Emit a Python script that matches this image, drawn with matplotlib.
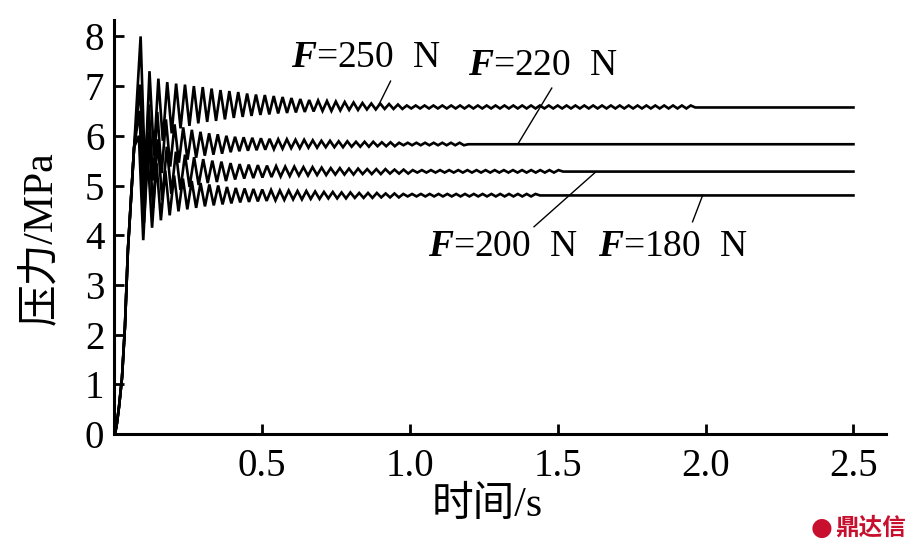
import numpy as np
import matplotlib
matplotlib.use("Agg")
import matplotlib.pyplot as plt

plt.rcParams['font.family'] = ['Liberation Serif', 'Noto Sans CJK SC', 'DejaVu Sans']
plt.rcParams['mathtext.fontset'] = 'custom'
plt.rcParams['mathtext.rm'] = 'Liberation Serif'
plt.rcParams['mathtext.bfit'] = 'Liberation Serif:italic:bold'

# ---------------- data ----------------
forces = [250, 220, 200, 180]
steady = [6.57, 5.83, 5.28, 4.80]                 # MPa, final level
first_peak_t = [0.090, 0.088, 0.086, 0.084]       # s
half_period = [0.0150, 0.0146, 0.0154, 0.0149]    # s, spacing of extrema
ripple_end = [1.95, 1.19, 1.51, 1.43]              # s, where the ripple stops
ripple_hi = [6.61, 5.86, 5.31, 4.83]
ripple_lo = [6.55, 5.81, 5.26, 4.78]
t_end = 2.5

# common rise from zero
rise_t = [0.000, 0.005, 0.010, 0.017, 0.027, 0.037, 0.047, 0.057, 0.068]
rise_v = [0.00, 0.05, 0.22, 0.55, 1.13, 2.16, 3.70, 4.68, 5.77]

peaks_250 = [8.00, 7.30, 7.15, 7.08, 7.05, 7.03, 7.00, 6.98, 6.95, 6.92,
             6.90, 6.88, 6.85, 6.83, 6.82, 6.80, 6.78, 6.76, 6.74, 6.72,
             6.71, 6.70, 6.69, 6.68, 6.67, 6.66, 6.65, 6.65, 6.64, 6.63]
troughs_250 = [5.20, 5.60, 5.90, 6.05, 6.15, 6.20, 6.25, 6.28, 6.30, 6.33,
               6.36, 6.38, 6.40, 6.42, 6.43, 6.45, 6.46, 6.47, 6.48, 6.49,
               6.50, 6.50, 6.51, 6.52, 6.52, 6.53, 6.53, 6.54, 6.54, 6.54]
peaks_220 = [7.03, 6.63, 6.48, 6.33, 6.23, 6.17, 6.12, 6.08, 6.05, 6.03,
             6.00, 5.98, 5.97, 5.96, 5.95, 5.94, 5.93, 5.93, 5.92, 5.92,
             5.91, 5.90, 5.90, 5.89, 5.89, 5.88, 5.88, 5.88, 5.87, 5.87]
troughs_220 = [4.80, 5.10, 5.25, 5.38, 5.46, 5.52, 5.56, 5.60, 5.62, 5.64,
               5.67, 5.69, 5.70, 5.71, 5.72, 5.73, 5.74, 5.75, 5.75, 5.76,
               5.76, 5.77, 5.77, 5.77, 5.78, 5.78, 5.78, 5.79, 5.79, 5.79]
peaks_200 = [6.50, 6.08, 5.93, 5.78, 5.68, 5.62, 5.57, 5.53, 5.50, 5.48,
             5.45, 5.43, 5.42, 5.41, 5.40, 5.39, 5.38, 5.38, 5.37, 5.37,
             5.36, 5.35, 5.35, 5.34, 5.34, 5.33, 5.33, 5.33, 5.32, 5.32]
troughs_200 = [4.25, 4.55, 4.70, 4.83, 4.91, 4.97, 5.01, 5.05, 5.07, 5.09,
               5.12, 5.14, 5.15, 5.16, 5.17, 5.18, 5.19, 5.20, 5.20, 5.21,
               5.21, 5.22, 5.22, 5.22, 5.23, 5.23, 5.23, 5.24, 5.24, 5.24]
peaks_180 = [6.00, 5.60, 5.45, 5.30, 5.20, 5.14, 5.09, 5.05, 5.02, 5.00,
             4.97, 4.95, 4.94, 4.93, 4.92, 4.91, 4.90, 4.90, 4.89, 4.89,
             4.88, 4.87, 4.87, 4.86, 4.86, 4.85, 4.85, 4.85, 4.84, 4.84]
troughs_180 = [3.90, 4.15, 4.30, 4.40, 4.48, 4.52, 4.55, 4.58, 4.60, 4.62,
               4.64, 4.66, 4.67, 4.68, 4.69, 4.70, 4.71, 4.72, 4.72, 4.73,
               4.73, 4.74, 4.74, 4.74, 4.75, 4.75, 4.75, 4.76, 4.76, 4.76]

all_peaks = [peaks_250, peaks_220, peaks_200, peaks_180]
all_troughs = [troughs_250, troughs_220, troughs_200, troughs_180]

labels = ["=250  N", "=220  N", "=200  N", "=180  N"]
label_pos = [(0.60, 7.57), (1.196, 7.40), (1.061, 3.76), (1.635, 3.76)]
leader_from = [(0.935, 7.10), (1.480, 6.96), (1.420, 4.17), (1.956, 4.27)]
leader_to = [(0.895, 6.62), (1.365, 5.83), (1.630, 5.28), (1.990, 4.80)]

xtick_vals = [0.5, 1.0, 1.5, 2.0, 2.5]
xtick_labels = ["0.5", "1.0", "1.5", "2.0", "2.5"]
ytick_vals = [0, 1, 2, 3, 4, 5, 6, 7, 8]

# ---------------- figure ----------------
W, H = 913, 551
fig = plt.figure(figsize=(W / 100, H / 100), dpi=100)
ax = fig.add_axes([114 / W, (H - 434) / H, (886 - 114) / W, (434 - 20) / H])

for i in range(4):
    t0 = first_peak_t[i]
    hp = half_period[i]
    ts = [t for t in rise_t if t < t0 - 0.01]
    vs = rise_v[:len(ts)]
    ts = list(ts); vs = list(vs)
    for k, (p, q) in enumerate(zip(all_peaks[i], all_troughs[i])):
        ts += [t0 + 2 * k * hp, t0 + (2 * k + 1) * hp]
        vs += [p, q]
    t_last = ts[-1]
    n_rip = int((ripple_end[i] - t_last) / hp)
    rip_t = t_last + hp * np.arange(1, n_rip + 1)
    rip_v = np.tile([ripple_hi[i], ripple_lo[i]], n_rip // 2 + 1)[:n_rip]
    ts = np.concatenate([ts, rip_t, [rip_t[-1] + hp, t_end]])
    vs = np.concatenate([vs, rip_v, [steady[i], steady[i]]])
    ax.plot(ts, vs, color='black', lw=1.9, solid_joinstyle='miter')

for i in range(4):
    ax.text(label_pos[i][0], label_pos[i][1], r"$\mathbfit{F}$" + labels[i],
            fontsize=27, ha='left', va='center', color='black')
    ax.plot([leader_from[i][0], leader_to[i][0]], [leader_from[i][1], leader_to[i][1]],
            color='black', lw=1.0)

ax.set_xlim(0, 2.61)
ax.set_ylim(0, 8.33)
ax.set_xticks(xtick_vals)
ax.set_xticklabels(xtick_labels)
ax.set_yticks(ytick_vals)
ax.tick_params(direction='in', length=7, width=2, labelsize=28, pad=7)
ax.tick_params(axis='x', pad=10)
for s in ['top', 'right']:
    ax.spines[s].set_visible(False)
for s in ['left', 'bottom']:
    ax.spines[s].set_linewidth(2.2)

fig.text(41 / W, 1 - 238 / H, "压力/MPa", rotation=90, ha='center', va='center', fontsize=30)
fig.text(487 / W, 1 - 506 / H, "时间/s", ha='center', va='center', fontsize=30)
fig.text(906 / W, 1 - 528 / H, "鼎达信", ha='right', va='center', fontsize=17,
         color='#c8102e', fontweight='bold', family=['Noto Sans CJK SC'])
fig.text(822 / W, 1 - 528 / H, "●", ha='center', va='center', fontsize=18,
         color='#c8102e', family=['DejaVu Sans'])

fig.savefig("out.png", dpi=100)
